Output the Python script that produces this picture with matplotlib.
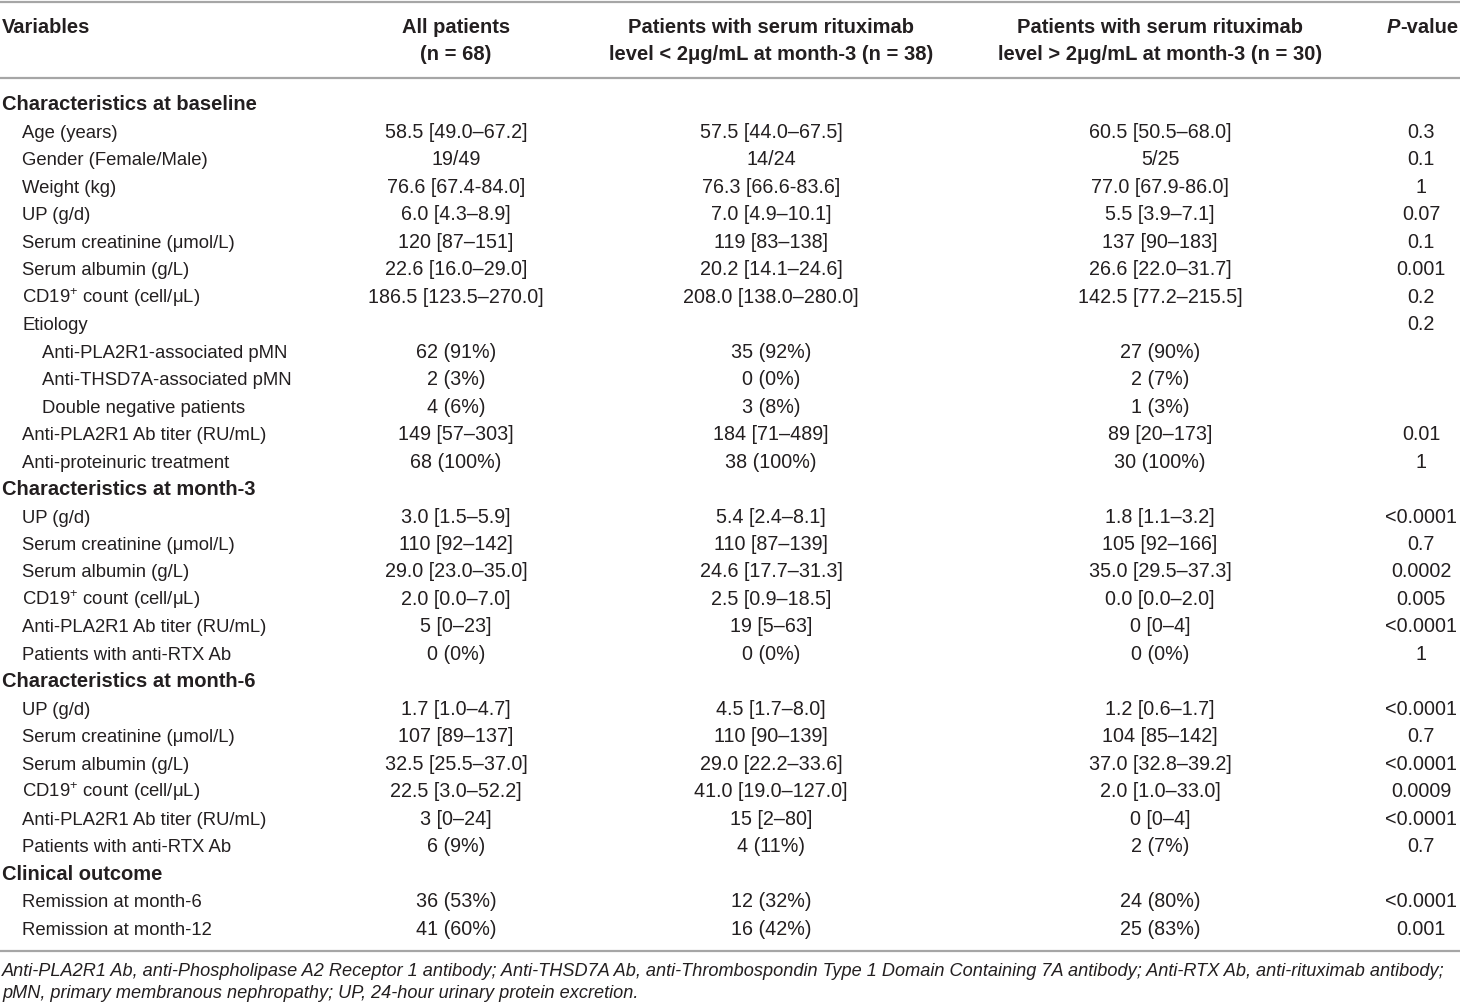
import matplotlib
matplotlib.use("Agg")
import matplotlib.pyplot as plt

plt.rcParams['font.family'] = ['Liberation Sans', 'DejaVu Sans']
plt.rcParams['mathtext.fontset'] = 'custom'
plt.rcParams['mathtext.rm'] = 'Liberation Sans'
plt.rcParams['mathtext.it'] = 'Liberation Sans:italic'
plt.rcParams['mathtext.bf'] = 'Liberation Sans:bold'

# table content
headers = [("All patients", "(n = 68)"),
           ("Patients with serum rituximab", "level < 2μg/mL at month-3 (n = 38)"),
           ("Patients with serum rituximab", "level > 2μg/mL at month-3 (n = 30)")]

# (label, indent level, is section header)
row_labels = [
    ("Characteristics at baseline", 0, True),
    ("Age (years)", 1, False),
    ("Gender (Female/Male)", 1, False),
    ("Weight (kg)", 1, False),
    ("UP (g/d)", 1, False),
    ("Serum creatinine (μmol/L)", 1, False),
    ("Serum albumin (g/L)", 1, False),
    ("CD19$^{+}$ count (cell/μL)", 1, False),
    ("Etiology", 1, False),
    ("Anti-PLA2R1-associated pMN", 2, False),
    ("Anti-THSD7A-associated pMN", 2, False),
    ("Double negative patients", 2, False),
    ("Anti-PLA2R1 Ab titer (RU/mL)", 1, False),
    ("Anti-proteinuric treatment", 1, False),
    ("Characteristics at month-3", 0, True),
    ("UP (g/d)", 1, False),
    ("Serum creatinine (μmol/L)", 1, False),
    ("Serum albumin (g/L)", 1, False),
    ("CD19$^{+}$ count (cell/μL)", 1, False),
    ("Anti-PLA2R1 Ab titer (RU/mL)", 1, False),
    ("Patients with anti-RTX Ab", 1, False),
    ("Characteristics at month-6", 0, True),
    ("UP (g/d)", 1, False),
    ("Serum creatinine (μmol/L)", 1, False),
    ("Serum albumin (g/L)", 1, False),
    ("CD19$^{+}$ count (cell/μL)", 1, False),
    ("Anti-PLA2R1 Ab titer (RU/mL)", 1, False),
    ("Patients with anti-RTX Ab", 1, False),
    ("Clinical outcome", 0, True),
    ("Remission at month-6", 1, False),
    ("Remission at month-12", 1, False),
]

all_patients = [
    "", "58.5 [49.0–67.2]", "19/49", "76.6 [67.4-84.0]", "6.0 [4.3–8.9]",
    "120 [87–151]", "22.6 [16.0–29.0]", "186.5 [123.5–270.0]", "",
    "62 (91%)", "2 (3%)", "4 (6%)", "149 [57–303]", "68 (100%)",
    "", "3.0 [1.5–5.9]", "110 [92–142]", "29.0 [23.0–35.0]", "2.0 [0.0–7.0]",
    "5 [0–23]", "0 (0%)",
    "", "1.7 [1.0–4.7]", "107 [89–137]", "32.5 [25.5–37.0]", "22.5 [3.0–52.2]",
    "3 [0–24]", "6 (9%)",
    "", "36 (53%)", "41 (60%)",
]
low_level = [
    "", "57.5 [44.0–67.5]", "14/24", "76.3 [66.6-83.6]", "7.0 [4.9–10.1]",
    "119 [83–138]", "20.2 [14.1–24.6]", "208.0 [138.0–280.0]", "",
    "35 (92%)", "0 (0%)", "3 (8%)", "184 [71–489]", "38 (100%)",
    "", "5.4 [2.4–8.1]", "110 [87–139]", "24.6 [17.7–31.3]", "2.5 [0.9–18.5]",
    "19 [5–63]", "0 (0%)",
    "", "4.5 [1.7–8.0]", "110 [90–139]", "29.0 [22.2–33.6]", "41.0 [19.0–127.0]",
    "15 [2–80]", "4 (11%)",
    "", "12 (32%)", "16 (42%)",
]
high_level = [
    "", "60.5 [50.5–68.0]", "5/25", "77.0 [67.9-86.0]", "5.5 [3.9–7.1]",
    "137 [90–183]", "26.6 [22.0–31.7]", "142.5 [77.2–215.5]", "",
    "27 (90%)", "2 (7%)", "1 (3%)", "89 [20–173]", "30 (100%)",
    "", "1.8 [1.1–3.2]", "105 [92–166]", "35.0 [29.5–37.3]", "0.0 [0.0–2.0]",
    "0 [0–4]", "0 (0%)",
    "", "1.2 [0.6–1.7]", "104 [85–142]", "37.0 [32.8–39.2]", "2.0 [1.0–33.0]",
    "0 [0–4]", "2 (7%)",
    "", "24 (80%)", "25 (83%)",
]
p_values = [
    "", "0.3", "0.1", "1", "0.07", "0.1", "0.001", "0.2", "0.2",
    "", "", "", "0.01", "1",
    "", "<0.0001", "0.7", "0.0002", "0.005", "<0.0001", "1",
    "", "<0.0001", "0.7", "<0.0001", "0.0009", "<0.0001", "0.7",
    "", "<0.0001", "0.001",
]

footnote_lines = [
    "Anti-PLA2R1 Ab, anti-Phospholipase A2 Receptor 1 antibody; Anti-THSD7A Ab, "
    "anti-Thrombospondin Type 1 Domain Containing 7A antibody; Anti-RTX Ab, anti-rituximab antibody;",
    "pMN, primary membranous nephropathy; UP, 24-hour urinary protein excretion.",
]

# layout (pixel coordinates, text placed on baselines)
W, H = 1460, 1008
col_x = [456, 771, 1160]
p_x = 1421
indent_x = [2, 22, 42]
base_top = 110.5
row_step = 27.47
fs_num = 14.2    # numbers in cells
fs_lab = 13.3    # row labels
fs_b = 14.5      # bold headers
txt = '#231f20'
line_c = '#a6a6a6'

fig = plt.figure(figsize=(W / 100, H / 100), dpi=100)
ax = fig.add_axes([0, 0, 1, 1])
ax.set_xlim(0, W)
ax.set_ylim(H, 0)
ax.axis('off')

# rules
for y in [1.5, 78, 951]:
    ax.plot([0, W], [y, y], color=line_c, lw=1.6, solid_capstyle='butt')

# header
ax.text(2, 33, "Variables", fontsize=fs_b, fontweight='bold', color=txt, va='baseline', ha='left')
for x, (h1, h2) in zip(col_x, headers):
    ax.text(x, 33, h1, fontsize=fs_b, fontweight='bold', color=txt, va='baseline', ha='center')
    ax.text(x, 60, h2, fontsize=fs_b, fontweight='bold', color=txt, va='baseline', ha='center')
ax.text(1400, 33, "P", fontsize=fs_b, fontweight='bold', fontstyle='italic', color=txt,
        va='baseline', ha='right')
ax.text(1400, 33, "-value", fontsize=fs_b, fontweight='bold', color=txt, va='baseline', ha='left')

# body
for i, (label, lvl, is_sec) in enumerate(row_labels):
    y = base_top + i * row_step
    ax.text(indent_x[lvl], y, label, fontsize=fs_b if is_sec else fs_lab, color=txt,
            va='baseline', ha='left', fontweight='bold' if is_sec else 'normal')
    for x, col in zip(col_x, [all_patients, low_level, high_level]):
        if col[i]:
            ax.text(x, y, col[i], fontsize=fs_num, color=txt, va='baseline', ha='center')
    if p_values[i]:
        ax.text(p_x, y, p_values[i], fontsize=fs_num, color=txt, va='baseline', ha='center')

# footnote
for y, line in zip([975.5, 998.5], footnote_lines):
    ax.text(2, y, line, fontsize=13.1, fontstyle='italic', color=txt, va='baseline', ha='left')

fig.savefig("out.png", dpi=100)
